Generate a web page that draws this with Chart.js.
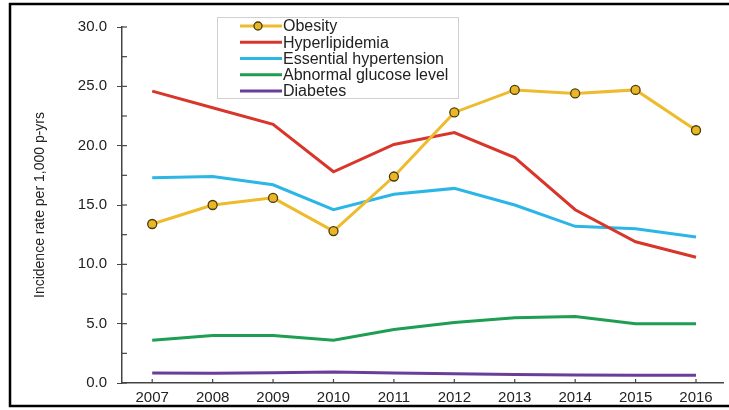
<!DOCTYPE html>
<html>
<head>
<meta charset="utf-8">
<script src="https://cdn.jsdelivr.net/npm/chart.js@4.4.0/dist/chart.umd.min.js"></script>
<style>
  html, body { margin: 0; padding: 0; background: #fff; }
  #wrap { position: relative; width: 729px; height: 410px; }
</style>
</head>
<body>
<div id="wrap"><canvas id="incidence"></canvas></div>
<script>
const years = [2007, 2008, 2009, 2010, 2011, 2012, 2013, 2014, 2015, 2016];
const obesity = [13.4, 15.0, 15.6, 12.8, 17.4, 22.8, 24.7, 24.4, 24.7, 21.3];
const hyperlipidemia = [24.6, 23.2, 21.8, 17.8, 20.1, 21.1, 19.0, 14.6, 11.9, 10.6];
const hypertension = [17.3, 17.4, 16.7, 14.6, 15.9, 16.4, 15.0, 13.2, 13.0, 12.3];
const glucose = [3.6, 4.0, 4.0, 3.6, 4.5, 5.1, 5.5, 5.6, 5.0, 5.0];
const diabetes = [0.85, 0.82, 0.87, 0.93, 0.85, 0.78, 0.72, 0.67, 0.65, 0.65];
const seriesNames = ['Obesity', 'Hyperlipidemia', 'Essential hypertension', 'Abnormal glucose level', 'Diabetes'];
const seriesColors = ['#EDBB2C', '#D8362B', '#2CB6E6', '#1E9E52', '#6A3E98'];

const toPoints = (vals) => vals.map((v, i) => ({ x: years[i], y: v }));

// inward tick marks + frame + legend box
const extras = {
  id: 'extras',
  afterDraw(chart) {
    const ctx = chart.ctx;
    const x = chart.scales.x, y = chart.scales.y;
    ctx.save();
    ctx.strokeStyle = '#444';
    ctx.lineWidth = 1.2;
    y.ticks.forEach(t => {
      const py = y.getPixelForValue(t.value);
      ctx.beginPath();
      ctx.moveTo(x.left, py);
      ctx.lineTo(x.left + 5, py);
      ctx.stroke();
    });
    x.ticks.forEach(t => {
      const px = x.getPixelForValue(t.value);
      ctx.beginPath();
      ctx.moveTo(px, y.bottom);
      ctx.lineTo(px, y.bottom - 4);
      ctx.stroke();
    });

    // legend
    const lx = 217, ly = 17, lw = 241, lh = 81;
    ctx.fillStyle = '#fff';
    ctx.fillRect(lx, ly, lw, lh);
    ctx.strokeStyle = '#d0d0d0';
    ctx.lineWidth = 1;
    ctx.strokeRect(lx + 0.5, ly + 0.5, lw, lh);
    ctx.font = '16px "Liberation Sans", Arial, sans-serif';
    ctx.textBaseline = 'middle';
    chart.data.datasets.forEach((ds, i) => {
      const ry = 26 + i * 16.25;
      ctx.strokeStyle = ds.borderColor;
      ctx.lineWidth = 3;
      ctx.beginPath();
      ctx.moveTo(240, ry);
      ctx.lineTo(282, ry);
      ctx.stroke();
      if (i === 0) {
        ctx.beginPath();
        ctx.arc(258, ry, 4, 0, Math.PI * 2);
        ctx.fillStyle = ds.pointBackgroundColor;
        ctx.fill();
        ctx.lineWidth = 1.3;
        ctx.strokeStyle = ds.pointBorderColor;
        ctx.stroke();
      }
      ctx.fillStyle = '#222';
      ctx.fillText(ds.label, 283, ry + 1);
    });

    // frame
    ctx.strokeStyle = '#000';
    ctx.lineWidth = 2.5;
    ctx.beginPath();
    ctx.moveTo(729, 4);
    ctx.lineTo(10, 4);
    ctx.lineTo(10, 406);
    ctx.lineTo(729, 406);
    ctx.stroke();
    ctx.restore();
  }
};

const lineDs = (i, vals) => ({
  label: seriesNames[i],
  data: toPoints(vals),
  borderColor: seriesColors[i],
  backgroundColor: seriesColors[i],
  borderWidth: 3,
  pointRadius: 0,
  tension: 0,
  order: i
});

const obesityDs = Object.assign(lineDs(0, obesity), {
  pointRadius: 4.5,
  pointBackgroundColor: '#E8B626',
  pointBorderColor: '#4a3b08',
  pointBorderWidth: 1.3
});

new Chart(document.querySelector('#incidence'), {
  type: 'line',
  data: {
    datasets: [
      obesityDs,
      lineDs(1, hyperlipidemia),
      lineDs(2, hypertension),
      lineDs(3, glucose),
      lineDs(4, diabetes)
    ]
  },
  options: {
    responsive: true,
    maintainAspectRatio: false,
    animation: false,
    layout: { padding: { left: 0, top: 27, right: 3, bottom: 0 } },
    plugins: { legend: { display: false }, tooltip: { enabled: false } },
    scales: {
      x: {
        type: 'linear',
        min: 2006.5,
        max: 2016.45,
        afterFit(s) { s.height = 27; },
        ticks: {
          stepSize: 1,
          includeBounds: false,
          autoSkip: false,
          maxRotation: 0,
          padding: 6,
          color: '#222',
          font: { family: '"Liberation Sans", Arial, sans-serif', size: 15 },
          callback: v => String(v)
        },
        grid: { drawOnChartArea: false, drawTicks: false },
        border: { color: '#444', width: 1.5 }
      },
      y: {
        min: 0,
        max: 30,
        afterFit(s) { s.width = 122; },
        ticks: {
          stepSize: 2.5,
          padding: 10,
          color: '#222',
          font: { family: '"Liberation Sans", Arial, sans-serif', size: 15 },
          callback: v => (v % 5 === 0 ? v.toFixed(1) : '')
        },
        grid: {
          drawOnChartArea: false,
          tickLength: 5,
          tickColor: ctx => (ctx.tick && ctx.tick.value % 5 === 0 ? '#444' : 'rgba(0,0,0,0)')
        },
        border: { color: '#444', width: 1.5 },
        title: {
          display: true,
          text: 'Incidence rate per 1,000 p-yrs',
          color: '#222',
          padding: { top: 32, bottom: 0 },
          font: { family: '"Liberation Sans", Arial, sans-serif', size: 14 }
        }
      }
    }
  },
  plugins: [extras]
});
</script>
</body>
</html>
